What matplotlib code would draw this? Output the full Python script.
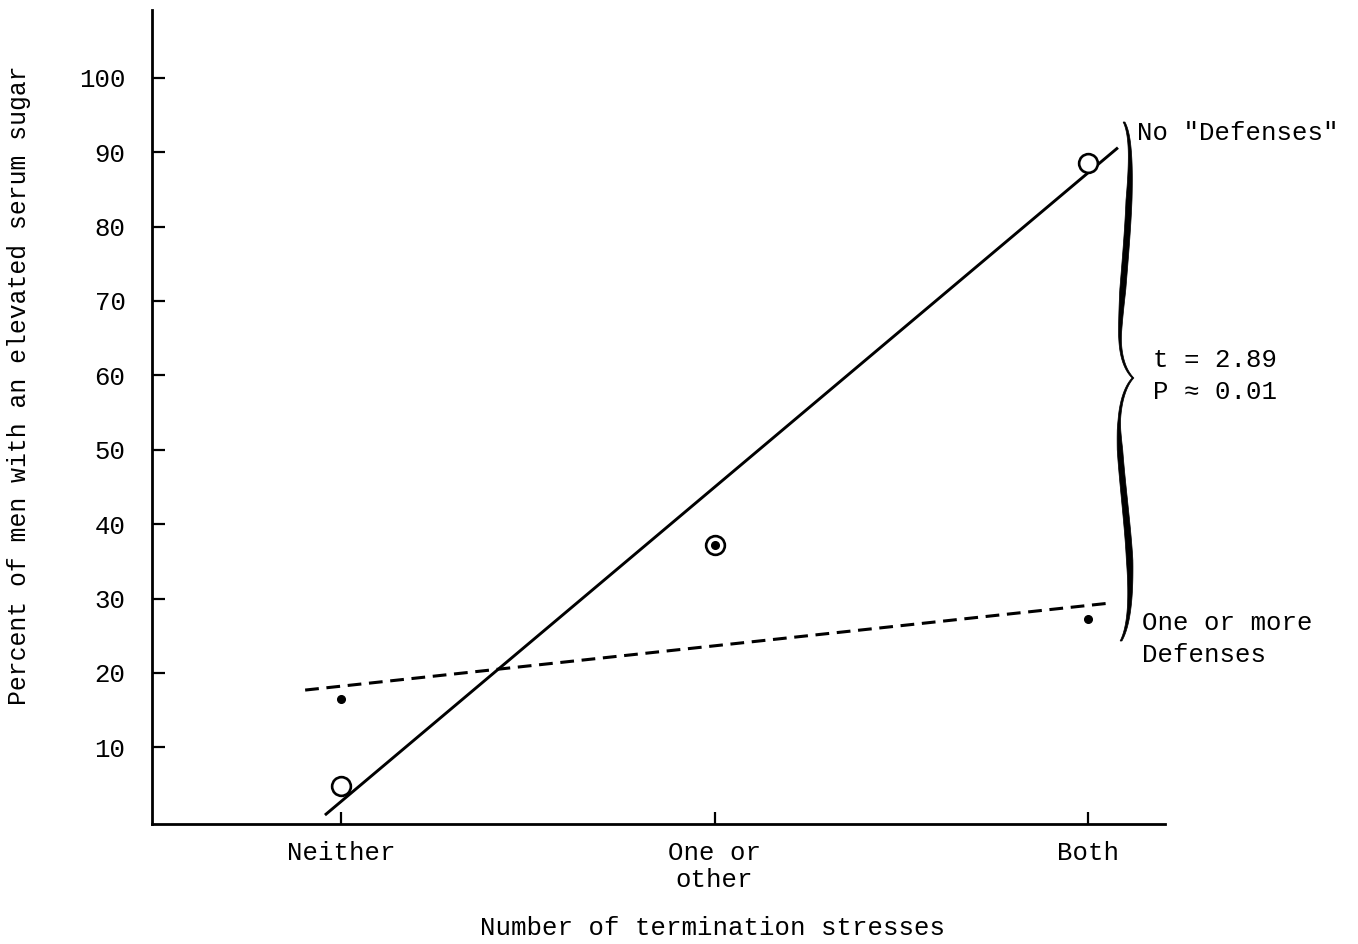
import numpy as np
import matplotlib
matplotlib.use("Agg")
import matplotlib.pyplot as plt
from matplotlib.patches import Polygon

plt.rcParams["font.family"] = ["Liberation Mono", "DejaVu Sans Mono"]

# ── data ──────────────────────────────────────────────────────────────────────
categories   = ["Neither", "One or\nother", "Both"]
no_defenses  = [4.8, 37.2, 88.6]    # open circles
with_defense = [16.5, 37.2, 27.3]   # small dots
# fitted lines (end points as drawn)
fit_no_x,   fit_no_y   = [-0.043, 2.080], [0.9, 90.6]
fit_with_x, fit_with_y = [-0.096, 2.060], [17.7, 29.4]
yticks = [10, 20, 30, 40, 50, 60, 70, 80, 90, 100]

W, H = 1358, 944
FS = 18.5
fig = plt.figure(figsize=(W / 100, H / 100), dpi=100)
ax = fig.add_axes([152 / W, 1 - 824 / H, (1165 - 152) / W, (824 - 10) / H])

def px(x, y):
    """image pixel (y down) -> figure fraction"""
    return x / W, 1 - y / H

xs = np.arange(len(categories))
ax.plot(fit_no_x, fit_no_y, color="black", lw=2.1, solid_capstyle="butt")
ax.plot(fit_with_x, fit_with_y, color="black", lw=2.2, dashes=(4.5, 2.5))
ax.plot(xs, no_defenses, "o", ms=13.5, mfc="white", mec="black", mew=1.9, zorder=3)
ax.plot(xs, with_defense, "o", ms=5.5, color="black", zorder=4)

ax.set_xlim(-0.506, 2.206)
ax.set_ylim(-0.3, 109.1)
ax.set_xticks(xs)
ax.set_xticklabels(categories, fontsize=FS)
ax.set_yticks(yticks)
ax.set_yticklabels([str(v) for v in yticks], fontsize=FS)
ax.tick_params(axis="both", direction="in", length=9, width=1.6)
ax.tick_params(axis="y", pad=19)
ax.tick_params(axis="x", pad=12)
for s in ["top", "right"]:
    ax.spines[s].set_visible(False)
for s in ["left", "bottom"]:
    ax.spines[s].set_linewidth(2.0)

fig.text(*px(712, 928), "Number of termination stresses", fontsize=FS,
         ha="center", va="center")
fig.text(*px(19, 385), "Percent of men with an elevated serum sugar", fontsize=17.8,
         ha="center", va="center", rotation=90)

# ── brace on the right ────────────────────────────────────────────────────────
def bez(p0, p1, p2, p3, n=40):
    t = np.linspace(0, 1, n)[:, None]
    p0, p1, p2, p3 = map(np.array, (p0, p1, p2, p3))
    return (1 - t)**3 * p0 + 3 * (1 - t)**2 * t * p1 + 3 * (1 - t) * t**2 * p2 + t**3 * p3

segs = [
    ((1124, 122), (1131, 135), (1131, 165), (1129, 200)),
    ((1129, 200), (1127, 250), (1121, 300), (1120, 335)),
    ((1120, 335), (1120, 360), (1127, 372), (1133, 378)),
    ((1133, 378), (1127, 384), (1119, 400), (1119, 430)),
    ((1119, 430), (1120, 470), (1129, 530), (1130, 570)),
    ((1130, 570), (1131, 605), (1128, 628), (1121, 641)),
]
c = np.vstack([bez(*s) for s in segs])
w = np.interp(c[:, 1], [122, 150, 200, 290, 340, 378, 420, 450, 560, 610, 641],
              [1.8, 3, 6, 6, 2.5, 1.8, 2.5, 5.5, 6.5, 3.5, 1.8])
outline = np.vstack([np.column_stack([c[:, 0] - w / 2, c[:, 1]]),
                     np.column_stack([c[::-1, 0] + w[::-1] / 2, c[::-1, 1]])])
outline = np.column_stack([outline[:, 0] / W, 1 - outline[:, 1] / H])
fig.add_artist(Polygon(outline, closed=True, color="black", lw=0.5,
                       transform=fig.transFigure))

fig.text(*px(1137, 133), 'No "Defenses"', fontsize=FS, ha="left", va="center")
fig.text(*px(1153, 360), "t = 2.89", fontsize=FS, ha="left", va="center")
fig.text(*px(1153, 392), "P \u2248 0.01", fontsize=FS, ha="left", va="center")
fig.text(*px(1142, 623), "One or more", fontsize=FS, ha="left", va="center")
fig.text(*px(1142, 655), "Defenses", fontsize=FS, ha="left", va="center")

fig.savefig("out.png", dpi=100)
